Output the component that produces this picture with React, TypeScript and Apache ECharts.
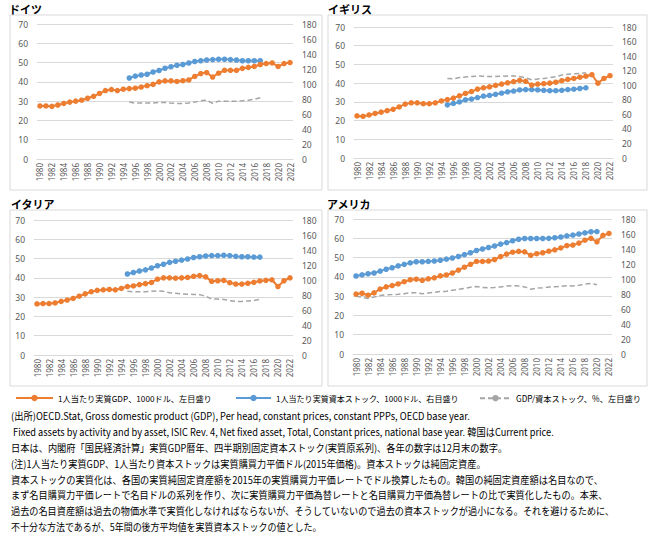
import React, { useEffect, useRef } from "react";
import * as echarts from "echarts";

const years = [
  "1980","1981","1982","1983","1984","1985","1986","1987","1988","1989",
  "1990","1991","1992","1993","1994","1995","1996","1997","1998","1999",
  "2000","2001","2002","2003","2004","2005","2006","2007","2008","2009",
  "2010","2011","2012","2013","2014","2015","2016","2017","2018","2019",
  "2020","2021","2022",
];

const leftTicks = [0, 10, 20, 30, 40, 50, 60, 70];
const rightTicks = [0, 20, 40, 60, 80, 100, 120, 140, 160, 180];

// Germany (1980-2022 GDP; capital stock & ratio 1995-2017)
const deGdp = [27.5,27.5,27.3,28,28.8,29.5,30,30.5,31.5,32.5,34,35.5,36,35.5,36.2,36.5,36.7,37.3,38,38.7,40,40.5,40.5,40.2,40.6,41,42.8,44.3,44.8,42.5,44.5,46,46,46,47,47.5,48,49,49.5,49.8,48,49.5,50];
const deCap = [108,110.5,112,113,116,118,121,123,125,126,128,130,131,132,132.5,133,133,132.5,132,131,131,131,131];
const deRatio = [29.5,29,29,29,29,29.3,29.3,29,28.8,28.8,29,29.5,30.2,30.5,28.8,30,30,30,30,30.2,30.5,31,31.8];

// UK (capital stock & ratio 1995-2018)
const ukGdp = [22.5,22.3,23,23.8,24.5,25.3,26,27.3,28.8,29.5,29.5,29,29,29.5,30.5,31.2,32,33.2,34.5,35.5,36.8,37.5,38,38.8,39.5,40.2,40.8,41.5,41,39,39.5,39.7,40,40.5,41.3,42,42.5,43.2,43.7,44.5,40,42.5,44];
const ukCap = [73,75,77,80,81,83,85,86,87.5,89,91,92,93.5,94,94,93.5,93,92.5,92.5,93,94,94.5,95.5,96.5];
const ukRatio = [42.5,42.3,43,43.3,43.5,43.8,43.7,43.5,43.5,43.7,43.8,43.8,43.5,42.8,41.8,42.2,42.5,43,43.5,44.3,44.8,45,45.2,45.5];

// Italy (capital stock & ratio 1995-2017)
const itGdp = [26.5,26.7,26.7,27,27.8,28.5,29.3,30.5,31.7,32.8,33.5,33.8,34,33.8,34.5,35.5,35.8,36.5,37,37.6,39.3,40,40,39.8,40,40.2,40.8,41.2,40.5,38.2,38.5,38.7,37.5,36.8,36.8,37.2,37.7,38.4,38.7,39,35.5,38.5,40];
const itCap = [108,110,112,113.5,116,119,121,123.5,125,126.5,128,130,131,132,132.5,132.5,133,132.5,131.5,131,131,130.5,130.5];
const itRatio = [33,32.8,32.8,32.8,33,33.3,33,32.3,32,31.6,31.5,31.4,31.3,30.5,29,29,28.8,28.2,27.8,27.8,28,28.3,28.8];

// USA (capital stock & ratio 1980-2020)
const usGdp = [31.1,31.5,30.5,31.7,33.7,34.8,35.5,36.3,37.5,38.5,38.8,38.2,39,39.5,40.5,41,42,43.5,45,46.5,48,48,48.2,49,50.5,51.8,52.8,53.2,53,51.2,52,52.5,53.3,54,55,56.2,56.5,57.5,59,60,58.2,61.5,62.5];
const usCap = [104,105.5,107,108,110.5,113,115,117.5,119.5,121.5,123,123,123.5,124,125,126.5,128,130,132.5,135,138,140,142,144,146.5,148.5,151,153,154,154,154,154,154.3,155,156,157.5,158.5,160,161.5,163,163.3];
const usRatio = [30,29.5,28.8,29.5,30.3,30.7,30.8,31,31.3,31.7,31.8,31.2,31.6,32,32.4,32.5,33,33.5,34,34.6,35,34.5,34.3,34.5,34.8,35.2,35.5,35.2,34.8,33.6,34.2,34.3,34.7,34.9,35.1,35.4,35.3,35.6,36.2,36.6,35.9];

const countries = ["ドイツ", "イギリス", "イタリア", "アメリカ"];
const seriesNames = [
  "1人当たり実質GDP、1000ドル、左目盛り",
  "1人当たり実質資本ストック、1000ドル、右目盛り",
  "GDP/資本ストック、%、左目盛り",
];

const notes = [
  "(出所)OECD.Stat, Gross domestic product (GDP), Per head, constant prices, constant PPPs, OECD base year.",
  " Fixed assets by activity and by asset, ISIC Rev. 4, Net fixed asset, Total, Constant prices, national base year. 韓国はCurrent price.",
  "日本は、内閣府「国民経済計算」実質GDP暦年、四半期別固定資本ストック(実質原系列)、各年の数字は12月末の数字。",
  "(注)1人当たり実質GDP、1人当たり資本ストックは実質購買力平価ドル(2015年価格)。資本ストックは純固定資産。",
  "資本ストックの実質化は、各国の実質純固定資産額を2015年の実質購買力平価レートでドル換算したもの。韓国の純固定資産額は名目なので、",
  "まず名目購買力平価レートで名目ドルの系列を作り、次に実質購買力平価為替レートと名目購買力平価為替レートの比で実質化したもの。本来、",
  "過去の名目資産額は過去の物価水準で実質化しなければならないが、そうしていないので過去の資本ストックが過小になる。それを避けるために、",
  "不十分な方法であるが、5年間の後方平均値を実質資本ストックの値とした。",
];

const pad = (vals: number[], startYear: string) => {
  const start = years.indexOf(startYear);
  return years.map((_, i) => (i >= start && i - start < vals.length ? vals[i - start] : null));
};

const ORANGE = "#ED7D31";
const BLUE = "#5B9BD5";
const GRAY = "#A5A5A5";
const FONT = '"Noto Sans", "Noto Sans CJK JP", sans-serif';
const JP = '"Noto Sans CJK JP", sans-serif';

export default function App() {
  const ref = useRef<HTMLDivElement>(null);
  useEffect(() => {
    if (!ref.current) return;
    const chart = echarts.init(ref.current, null, { renderer: "svg" });

    const grids = [
      { left: 37, top: 24, width: 256, height: 135 },
      { left: 354, top: 27, width: 259, height: 131 },
      { left: 34, top: 220, width: 259, height: 135 },
      { left: 353, top: 219, width: 259, height: 135 },
    ];
    const boxes = [
      { x: 10, y: 15, w: 312, h: 175 },
      { x: 328, y: 15, w: 319, h: 175 },
      { x: 10, y: 210, w: 312, h: 176 },
      { x: 328, y: 210, w: 319, h: 176 },
    ];
    const titlePos = [
      { left: 9, top: 3 },
      { left: 328, top: 3 },
      { left: 11, top: 198 },
      { left: 327, top: 198 },
    ];
    const canvas = document.createElement("canvas");
    const ctx = canvas.getContext("2d");
    const measure = (t: string, font: string) => {
      if (!ctx) return 0;
      ctx.font = font;
      return ctx.measureText(t).width;
    };

    // right end (px) of each note line in the layout
    const noteEnds = [470, 554, 508, 486, 604, 608, 615, 322];
    const noteX = 11;
    const noteFont = `10px ${JP}`;
    const noteScale = notes.map((t, i) => {
      const w = measure(t, noteFont);
      return w > 0 ? (noteEnds[i] - noteX) / w : 0.92;
    });

    // legend text target widths -> font sizes
    const legendLeft = [10, 230, 474];
    const legendIconW = [37, 35, 31];
    const legendTextW = [154, 183, 125];
    const legendFs = seriesNames.map((t, i) => {
      const w = measure(t, `10px ${JP}`);
      const fs = w > 0 ? (10 * legendTextW[i]) / w : 8.5;
      return Math.max(7, Math.min(10, fs));
    });

    const data = [
      { gdp: deGdp, cap: pad(deCap, "1995"), ratio: pad(deRatio, "1995") },
      { gdp: ukGdp, cap: pad(ukCap, "1995"), ratio: pad(ukRatio, "1995") },
      { gdp: itGdp, cap: pad(itCap, "1995"), ratio: pad(itRatio, "1995") },
      { gdp: usGdp, cap: pad(usCap, "1980"), ratio: pad(usRatio, "1980") },
    ];

    const xAxis: any[] = [];
    const yAxis: any[] = [];
    const series: any[] = [];
    grids.forEach((_, g) => {
      xAxis.push({
        type: "category",
        gridIndex: g,
        data: years,
        boundaryGap: true,
        axisLine: { lineStyle: { color: "#D9D9D9" } },
        axisTick: { show: false },
        axisLabel: { interval: 1, rotate: 90, fontSize: 8, color: "#595959", fontFamily: FONT, margin: 4 },
      });
      yAxis.push({
        type: "value",
        gridIndex: g,
        min: leftTicks[0],
        max: leftTicks[leftTicks.length - 1],
        interval: 10,
        axisLine: { show: false },
        axisTick: { show: false },
        splitLine: { lineStyle: { color: "#D9D9D9" } },
        axisLabel: { fontSize: 8.5, color: "#595959", fontFamily: FONT, margin: 9 },
      });
      yAxis.push({
        type: "value",
        gridIndex: g,
        position: "right",
        min: rightTicks[0],
        max: rightTicks[rightTicks.length - 1],
        interval: 20,
        axisLine: { show: false },
        axisTick: { show: false },
        splitLine: { show: false },
        axisLabel: { fontSize: 8.5, color: "#595959", fontFamily: FONT, margin: 9 },
      });
      const d = data[g];
      series.push({
        name: seriesNames[0], type: "line", xAxisIndex: g, yAxisIndex: g * 2,
        data: d.gdp, symbol: "circle", symbolSize: 5.5, showSymbol: true, showAllSymbol: true,
        itemStyle: { color: ORANGE }, lineStyle: { color: ORANGE, width: 2 }, z: 4,
      });
      series.push({
        name: seriesNames[1], type: "line", xAxisIndex: g, yAxisIndex: g * 2 + 1,
        data: d.cap, symbol: "circle", symbolSize: 5.5, showSymbol: true, showAllSymbol: true,
        itemStyle: { color: BLUE }, lineStyle: { color: BLUE, width: 2 }, z: 3,
      });
      series.push({
        name: seriesNames[2], type: "line", xAxisIndex: g, yAxisIndex: g * 2,
        data: d.ratio, symbol: "none",
        itemStyle: { color: GRAY }, lineStyle: { color: GRAY, width: 1.5, type: [5, 3] }, z: 2,
      });
    });

    const graphic: any[] = boxes.map((b) => ({
      type: "rect", z: -1,
      shape: { x: b.x, y: b.y, width: b.w, height: b.h },
      style: { fill: "none", stroke: "#D9D9D9", lineWidth: 1 },
    }));
    notes.forEach((t, i) => {
      graphic.push({
        type: "text", x: noteX, y: 416 + i * 15.85, scaleX: noteScale[i],
        style: { text: t, font: noteFont, fill: "#000", verticalAlign: "middle" },
      });
    });

    chart.setOption({
      animation: false,
      backgroundColor: "#fff",
      title: countries.map((c, i) => ({
        text: c, left: titlePos[i].left, top: titlePos[i].top, padding: 0,
        textStyle: { fontSize: 11, fontWeight: "bold", color: "#000", fontFamily: JP },
      })),
      legend: seriesNames.map((n, i) => ({
        top: 389,
        left: legendLeft[i],
        itemWidth: legendIconW[i],
        itemHeight: 8,
        selectedMode: false,
        data: [n],
        textStyle: { fontSize: legendFs[i], color: "#000", fontFamily: JP },
      })),
      grid: grids.map((g) => ({ ...g, containLabel: false })),
      xAxis,
      yAxis,
      series,
      graphic,
    });
    return () => chart.dispose();
  }, []);
  return <div ref={ref} style={{ position: "fixed", left: 0, top: 0, width: 650, height: 552 }} />;
}
